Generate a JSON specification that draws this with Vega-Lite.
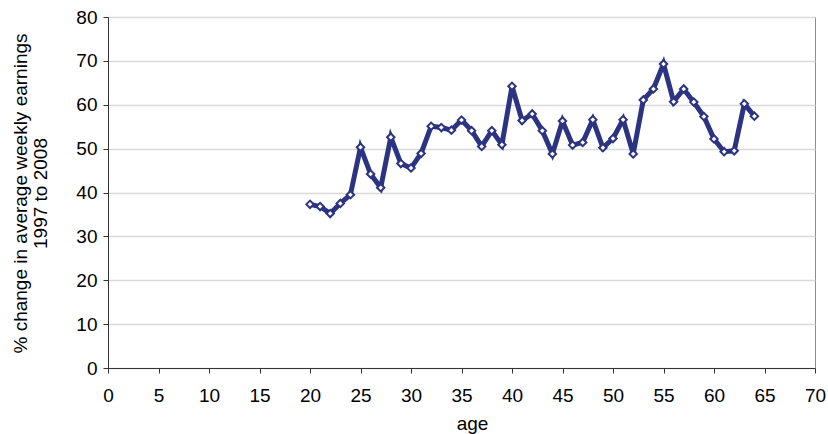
{
  "$schema": "https://vega.github.io/schema/vega-lite/v6.json",
  "autosize": "none",
  "width": 707,
  "height": 351,
  "padding": {"left": 108, "top": 17, "right": 13, "bottom": 66},
  "background": "white",
  "config": {
    "view": {"stroke": "#8c8c8c", "strokeWidth": 1},
    "axis": {
      "labelFont": "Liberation Sans",
      "titleFont": "Liberation Sans",
      "labelFontSize": 19,
      "titleFontSize": 19,
      "labelColor": "#000000",
      "titleColor": "#000000",
      "titleFontWeight": "normal",
      "labelFlush": false,
      "labelOverlap": false,
      "domainColor": "#333333",
      "tickColor": "#333333",
      "tickSize": 5,
      "gridColor": "#d9d9d9",
      "gridWidth": 1.5
    }
  },
  "data": {
    "values": [
      {"age": 20, "change": 37.3},
      {"age": 21, "change": 36.8},
      {"age": 22, "change": 35.2},
      {"age": 23, "change": 37.5},
      {"age": 24, "change": 39.5},
      {"age": 25, "change": 50.3},
      {"age": 26, "change": 44.2},
      {"age": 27, "change": 41.1},
      {"age": 28, "change": 52.6},
      {"age": 29, "change": 46.6},
      {"age": 30, "change": 45.6},
      {"age": 31, "change": 48.9},
      {"age": 32, "change": 55.1},
      {"age": 33, "change": 54.8},
      {"age": 34, "change": 54.2},
      {"age": 35, "change": 56.5},
      {"age": 36, "change": 54.1},
      {"age": 37, "change": 50.5},
      {"age": 38, "change": 54.1},
      {"age": 39, "change": 50.9},
      {"age": 40, "change": 64.2},
      {"age": 41, "change": 56.4},
      {"age": 42, "change": 57.9},
      {"age": 43, "change": 54.1},
      {"age": 44, "change": 48.8},
      {"age": 45, "change": 56.3},
      {"age": 46, "change": 50.8},
      {"age": 47, "change": 51.4},
      {"age": 48, "change": 56.6},
      {"age": 49, "change": 50.2},
      {"age": 50, "change": 52.3},
      {"age": 51, "change": 56.6},
      {"age": 52, "change": 48.8},
      {"age": 53, "change": 61.1},
      {"age": 54, "change": 63.6},
      {"age": 55, "change": 69.3},
      {"age": 56, "change": 60.7},
      {"age": 57, "change": 63.6},
      {"age": 58, "change": 60.6},
      {"age": 59, "change": 57.3},
      {"age": 60, "change": 52.2},
      {"age": 61, "change": 49.3},
      {"age": 62, "change": 49.5},
      {"age": 63, "change": 60.2},
      {"age": 64, "change": 57.4}
    ]
  },
  "encoding": {
    "x": {
      "field": "age",
      "type": "quantitative",
      "scale": {"domain": [0, 70], "nice": false, "zero": false},
      "axis": {
        "title": "age",
        "values": [0, 5, 10, 15, 20, 25, 30, 35, 40, 45, 50, 55, 60, 65, 70],
        "grid": false,
        "labelPadding": 13,
        "titleX": 364,
        "titleY": 61,
        "titleBaseline": "alphabetic",
        "titleAlign": "center"
      }
    },
    "y": {
      "field": "change",
      "type": "quantitative",
      "scale": {"domain": [0, 80], "nice": false},
      "axis": {
        "title": ["% change in average weekly earnings", "1997 to 2008"],
        "values": [0, 10, 20, 30, 40, 50, 60, 70, 80],
        "labelPadding": 6,
        "titleAngle": -90,
        "titleX": -82,
        "titleY": 176,
        "titleAlign": "center",
        "titleBaseline": "alphabetic",
        "titleLineHeight": 20
      }
    }
  },
  "layer": [
    {
      "mark": {"type": "line", "color": "#2c3382", "strokeWidth": 5, "strokeJoin": "miter"}
    },
    {
      "mark": {"type": "point", "shape": "diamond", "filled": true, "fill": "white", "stroke": "#2c3382", "strokeWidth": 2, "size": 55, "opacity": 1}
    }
  ]
}
